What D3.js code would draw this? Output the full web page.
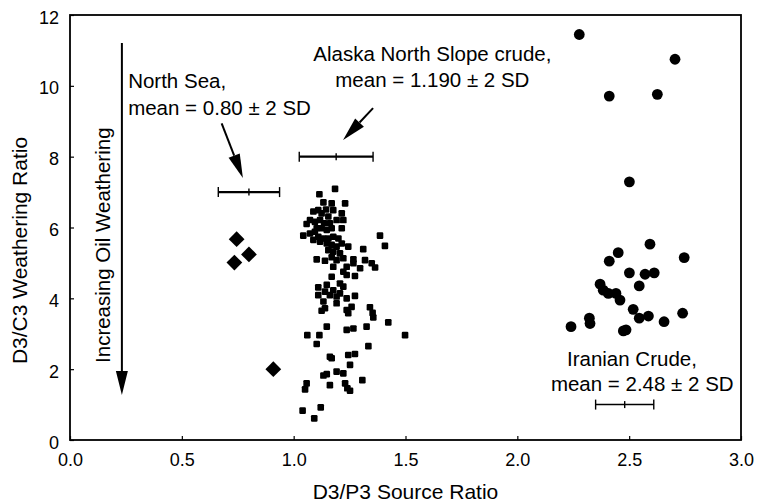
<!DOCTYPE html>
<meta charset="utf-8">
<script src="https://d3js.org/d3.v7.min.js"></script>
<style>
  body { margin: 0; background: #fff; }
  text { font-family: "Liberation Sans", Arial, sans-serif; fill: #000; }
  .tick-label { font-size: 18px; }
  .axis-title { font-size: 21px; }
  .note { font-size: 20.5px; }
</style>
<div id="chart"></div>
<script>
// North Sea oils (diamonds)
var northSea = [[0.745, 5.67], [0.800, 5.24], [0.735, 5.01], [0.909, 2.00]];

// Alaska North Slope crude (small squares)
var alaska = [
  [1.185, 7.09], [1.115, 6.94], [1.133, 6.71], [1.170, 6.68], [1.230, 6.68],
  [1.088, 6.45], [1.110, 6.49], [1.125, 6.40], [1.145, 6.51], [1.155, 6.31],
  [1.177, 6.49], [1.215, 6.40], [1.073, 6.21], [1.095, 6.16], [1.118, 6.21],
  [1.136, 6.12], [1.162, 6.12], [1.192, 6.21], [1.222, 6.21], [1.058, 6.10],
  [1.103, 5.98], [1.125, 5.98], [1.148, 5.93], [1.170, 5.98], [1.215, 5.98],
  [1.043, 5.77], [1.073, 5.83], [1.095, 5.88], [1.110, 5.74], [1.133, 5.69],
  [1.155, 5.69], [1.177, 5.74], [1.200, 5.69], [1.088, 5.65], [1.118, 5.60],
  [1.148, 5.55], [1.170, 5.51], [1.192, 5.46], [1.215, 5.55], [1.244, 5.46],
  [1.311, 5.39], [1.386, 5.77], [1.408, 5.48], [1.155, 5.36], [1.177, 5.32],
  [1.207, 5.27], [1.103, 5.10], [1.140, 5.06], [1.170, 5.16], [1.192, 5.08],
  [1.222, 5.13], [1.267, 5.10], [1.319, 5.08], [1.349, 4.99], [1.364, 4.87],
  [1.177, 4.89], [1.237, 4.89], [1.267, 4.99], [1.297, 4.85], [1.222, 4.75],
  [1.237, 4.66], [1.274, 4.63], [1.170, 4.61], [1.207, 4.42], [1.110, 4.31],
  [1.148, 4.38], [1.177, 4.23], [1.222, 4.33], [1.110, 4.09], [1.140, 4.19],
  [1.162, 4.09], [1.192, 4.05], [1.207, 4.14], [1.237, 4.00], [1.274, 4.07],
  [1.133, 3.91], [1.192, 3.86], [1.140, 3.72], [1.125, 3.65], [1.237, 3.67],
  [1.244, 3.58], [1.259, 3.76], [1.341, 3.75], [1.353, 3.59], [1.356, 3.46],
  [1.423, 3.32], [1.148, 3.20], [1.237, 3.11], [1.267, 3.15], [1.326, 3.20],
  [1.061, 2.96], [1.115, 2.96], [1.103, 2.71], [1.498, 2.96], [1.334, 2.65],
  [1.162, 2.35], [1.170, 2.31], [1.244, 2.40], [1.274, 2.43], [1.252, 2.12],
  [1.133, 1.82], [1.148, 1.86], [1.192, 1.93], [1.222, 1.88], [1.162, 1.55],
  [1.230, 1.60], [1.240, 1.46], [1.252, 1.39], [1.307, 1.69], [1.058, 1.60],
  [1.051, 1.43], [1.040, 0.83], [1.121, 0.92], [1.092, 0.61]
];

// Iranian crude (circles)
var iranian = [
  [2.277, 11.45], [2.705, 10.75], [2.411, 9.71], [2.626, 9.76], [2.501, 7.29],
  [2.593, 5.53], [2.451, 5.29], [2.411, 5.05], [2.746, 5.15], [2.501, 4.72],
  [2.571, 4.68], [2.612, 4.72], [2.545, 4.35], [2.370, 4.40], [2.384, 4.23],
  [2.407, 4.14], [2.441, 4.14], [2.459, 3.95], [2.518, 3.69], [2.545, 3.44],
  [2.586, 3.50], [2.739, 3.58], [2.656, 3.34], [2.240, 3.20], [2.322, 3.44],
  [2.325, 3.29], [2.474, 3.08], [2.486, 3.11]
];

// mean +- 2 SD bars: [mean, half width, y]
var meanBars = [[0.80, 0.137, 7.0], [1.19, 0.165, 8.0], [2.48, 0.13, 1.0]];

var xTicks = [0, 0.5, 1.0, 1.5, 2.0, 2.5, 3.0];
var yTicks = [0, 2, 4, 6, 8, 10, 12];

var margin = {top: 15, right: 19, bottom: 62, left: 70},
    width = 760 - margin.left - margin.right,
    height = 502 - margin.top - margin.bottom;

var svg = d3.select("#chart")
  .append("svg")
    .attr("width", 760)
    .attr("height", 502)
  .append("g")
    .attr("transform", "translate(" + margin.left + "," + margin.top + ")");

var x = d3.scaleLinear().domain([0, 3]).range([0, width]);
var y = d3.scaleLinear().domain([0, 12]).range([height, 0]);

// axes with small inward ticks
var xAxis = svg.append("g")
  .attr("transform", "translate(0," + height + ")")
  .call(d3.axisBottom(x).tickValues(xTicks).tickSize(-4).tickPadding(13).tickFormat(d3.format(".1f")));
var yAxis = svg.append("g")
  .call(d3.axisLeft(y).tickValues(yTicks).tickSize(-4).tickPadding(11));

[xAxis, yAxis].forEach(function(a) {
  a.select(".domain").remove();
  a.selectAll(".tick line").attr("stroke", "#000").attr("stroke-width", 1.2);
  a.selectAll(".tick text").attr("class", "tick-label").attr("font-family", null).attr("font-size", null);
});
yAxis.selectAll(".tick text").attr("dy", "0.45em");

// frame
svg.append("rect")
  .attr("width", width)
  .attr("height", height)
  .attr("fill", "none")
  .attr("stroke", "#000")
  .attr("stroke-width", 1.8);

// axis titles
svg.append("text")
  .attr("class", "axis-title")
  .attr("x", width / 2)
  .attr("y", height + 59)
  .attr("text-anchor", "middle")
  .text("D3/P3 Source Ratio");

svg.append("text")
  .attr("class", "axis-title")
  .attr("font-size", "23px")
  .attr("transform", "translate(" + (-43) + "," + (height / 2 + 23) + ") rotate(-90)")
  .attr("text-anchor", "middle")
  .text("D3/C3 Weathering Ratio");

// points
svg.selectAll(".ns")
  .data(northSea)
  .enter()
  .append("path")
    .attr("class", "ns")
    .attr("d", d3.symbol().type(d3.symbolDiamond2).size(110))
    .attr("transform", function(d) { return "translate(" + x(d[0]) + "," + y(d[1]) + ") scale(1.2)"; })
    .attr("fill", "#000");

svg.selectAll(".ak")
  .data(alaska)
  .enter()
  .append("rect")
    .attr("class", "ak")
    .attr("x", function(d) { return x(d[0]) - 3.3; })
    .attr("y", function(d) { return y(d[1]) - 3.3; })
    .attr("width", 6.6)
    .attr("height", 6.6)
    .attr("rx", 1.2)
    .attr("fill", "#000");

svg.selectAll(".ir")
  .data(iranian)
  .enter()
  .append("circle")
    .attr("class", "ir")
    .attr("cx", function(d) { return x(d[0]); })
    .attr("cy", function(d) { return y(d[1]); })
    .attr("r", 5.4)
    .attr("fill", "#000");

// mean +- 2SD bars
var bars = svg.selectAll(".mbar")
  .data(meanBars)
  .enter()
  .append("g")
    .attr("class", "mbar")
    .attr("stroke", "#000")
    .attr("stroke-width", function(d, i) { return i == 2 ? 1.5 : 2.2; });
bars.append("line")
  .attr("x1", function(d) { return x(d[0] - d[1]); })
  .attr("x2", function(d) { return x(d[0] + d[1]); })
  .attr("y1", function(d) { return y(d[2]); })
  .attr("y2", function(d) { return y(d[2]); });
bars.selectAll(".cap")
  .data(function(d) { return [[d[0] - d[1], d[2], 5], [d[0], d[2], 3.5], [d[0] + d[1], d[2], 5]]; })
  .enter()
  .append("line")
    .attr("stroke-width", 1.4)
    .attr("x1", function(d) { return x(d[0]); })
    .attr("x2", function(d) { return x(d[0]); })
    .attr("y1", function(d) { return y(d[1]) - d[2]; })
    .attr("y2", function(d) { return y(d[1]) + d[2]; });

// arrows: [x1, y1, x2 (tip), y2 (tip)]
var arrows = [[0.232, 11.21, 0.232, 1.27], [0.678, 8.94, 0.773, 7.40], [1.355, 9.37, 1.221, 8.47]];

function drawArrow(a) {
  var x1 = x(a[0]), y1 = y(a[1]), x2 = x(a[2]), y2 = y(a[3]);
  var ang = Math.atan2(y2 - y1, x2 - x1), len = 24, hw = 6;
  var bx = x2 - len * Math.cos(ang), by = y2 - len * Math.sin(ang);
  var px = -Math.sin(ang) * hw, py = Math.cos(ang) * hw;
  svg.append("line")
    .attr("x1", x1).attr("y1", y1)
    .attr("x2", bx).attr("y2", by)
    .attr("stroke", "#000")
    .attr("stroke-width", 2);
  svg.append("path")
    .attr("d", "M" + x2 + "," + y2 + "L" + (bx + px) + "," + (by + py) + "L" + (bx - px) + "," + (by - py) + "Z")
    .attr("fill", "#000");
}
arrows.forEach(drawArrow);

// annotations
svg.append("text")
  .attr("class", "note")
  .attr("font-size", "23px")
  .attr("transform", "translate(" + x(0.18) + "," + y(5.5) + ") rotate(-90)")
  .attr("text-anchor", "middle")
  .text("Increasing Oil Weathering");

var ns = svg.append("text").attr("class", "note");
ns.append("tspan").attr("x", x(0.26)).attr("y", y(9.94)).text("North Sea,");
ns.append("tspan").attr("x", x(0.26)).attr("y", y(9.17)).text("mean = 0.80 \u00b1 2 SD");

var ak = svg.append("text").attr("class", "note").attr("text-anchor", "middle");
ak.append("tspan").attr("x", x(1.62)).attr("y", y(10.7)).text("Alaska North Slope crude,");
ak.append("tspan").attr("x", x(1.62)).attr("y", y(9.98)).text("mean = 1.190 \u00b1 2 SD");

var ir = svg.append("text").attr("class", "note");
ir.append("tspan").attr("x", x(2.222)).attr("y", y(2.08)).text("Iranian Crude,");
ir.append("tspan").attr("x", x(2.15)).attr("y", y(1.38)).text("mean = 2.48 \u00b1 2 SD");
</script>
